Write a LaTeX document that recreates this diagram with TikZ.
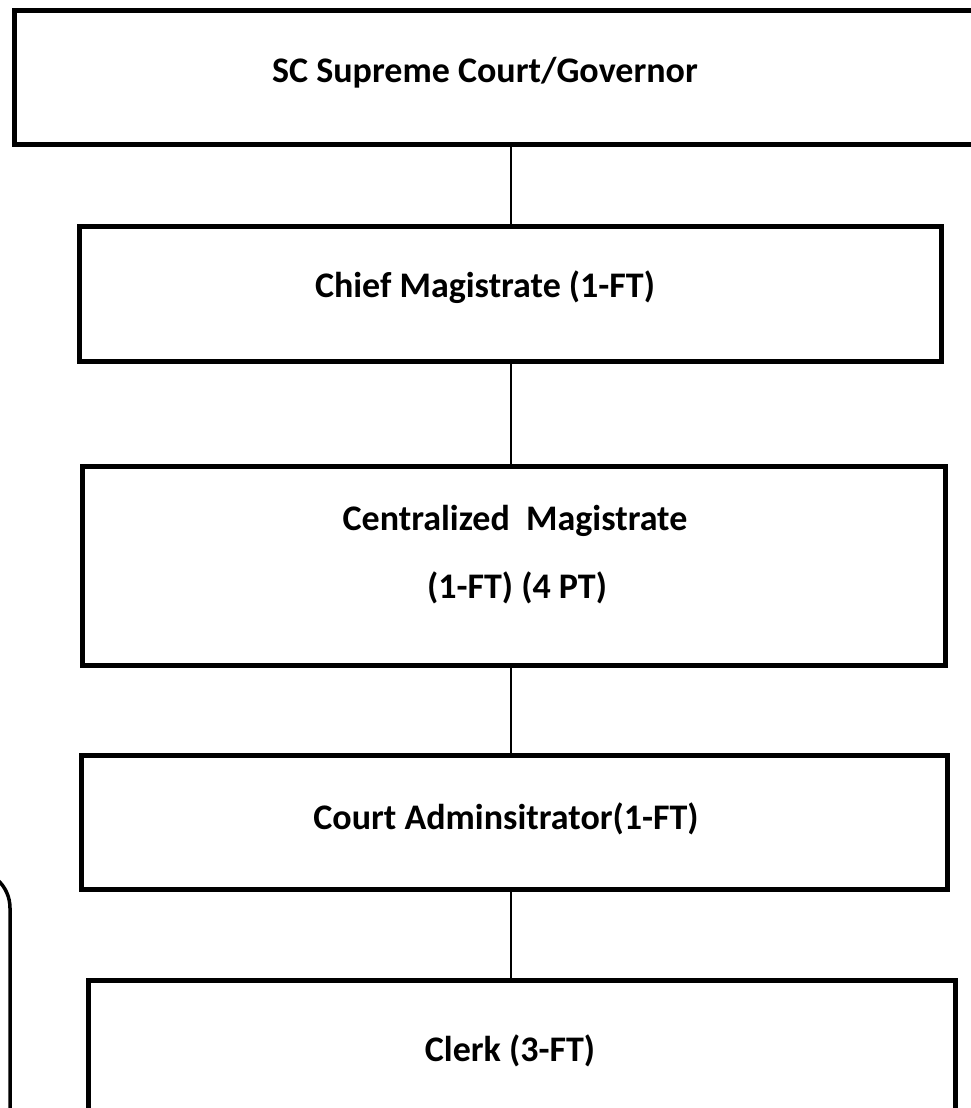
\documentclass[tikz,border=0pt]{standalone}
\usepackage{fontspec}
\setmainfont{Carlito}
\begin{document}
\begin{tikzpicture}[x=1pt,y=-1pt,
  box/.style={draw=black,line width=4.5pt,rectangle,inner sep=0pt,anchor=north west},
  lbl/.style={font=\fontsize{36}{43}\selectfont\bfseries,anchor=base,inner sep=0pt},
  conn/.style={draw=black,line width=2.5pt}]
\useasboundingbox (0,0) rectangle (971,1108);
\clip (0,0) rectangle (971,1108);
\coordinate (cx) at (511,0);
% boxes
\node[box,line width=5pt,minimum width=990pt,minimum height=134pt] (top) at (12,8) {};
\node[box,minimum width=862pt,minimum height=135pt] (chief) at (77,224) {};
\node[box,minimum width=863pt,minimum height=199pt] (central) at (80,464) {};
\node[box,minimum width=866pt,minimum height=134pt] (admin) at (79,753) {};
\node[box,minimum width=867pt,minimum height=200pt] (clerk) at (86,978) {};
% labels
\node[lbl] (ttop) at (485,82) {SC Supreme Court/Governor};
\node[lbl] (tchief) at (485,297) {Chief Magistrate (1-FT)};
\node[lbl] (tcent1) at (515,530) {Centralized\ \ Magistrate};
\node[lbl] (tcent2) at (517,598) {(1-FT) (4 PT)};
\node[lbl] (tadmin) at (506,829) {Court Adminsitrator(1-FT)};
\node[lbl] (tclerk) at (510,1061) {Clerk (3-FT)};
% connectors
\draw[conn] (top.south -| cx) -- (chief.north -| cx);
\draw[conn] (chief.south -| cx) -- (central.north -| cx);
\draw[conn] (central.south -| cx) -- (admin.north -| cx);
\draw[conn] (admin.south -| cx) -- (clerk.north -| cx);
% partial rounded box at left
\coordinate (lA) at (-60,870);
\coordinate (lB) at (10,870);
\coordinate (lC) at (10,1130);
\draw[line width=3.5pt,rounded corners=38pt] (lA) -- (lB) -- (lC);
\end{tikzpicture}
\end{document}
